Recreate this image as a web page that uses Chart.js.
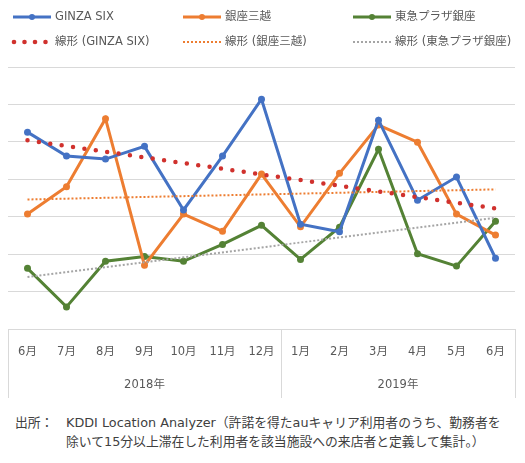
<!DOCTYPE html>
<html>
<head>
<meta charset="utf-8">
<script src="https://cdn.jsdelivr.net/npm/chart.js@4"></script>
<style>
  body { margin: 0; background: #fff; font-family: "DejaVu Sans", "Noto Sans CJK JP", sans-serif; }
  #wrap { position: relative; width: 525px; height: 400px; }
  .note { position: absolute; font-size: 12.8px; color: #404040; line-height: 19px; white-space: nowrap; }
</style>
</head>
<body>
<div id="wrap"><canvas id="chart"></canvas></div>
<div class="note" style="left:15px; top:413px;">出所：</div>
<div class="note" style="left:66px; top:413px;">KDDI Location Analyzer（許諾を得たauキャリア利用者のうち、勤務者を<br>除いて15分以上滞在した利用者を該当施設への来店者と定義して集計。）</div>
<script>
const months = ["6月", "7月", "8月", "9月", "10月", "11月", "12月", "1月", "2月", "3月", "4月", "5月", "6月"];
const years = [["2018年", 0, 6], ["2019年", 7, 12]];

const ginzaSix = [5.26, 4.62, 4.54, 4.88, 3.18, 4.62, 6.14, 2.80, 2.60, 5.58, 3.44, 4.06, 1.89];
const mitsukoshi = [3.07, 3.80, 5.62, 1.70, 3.07, 2.61, 4.14, 2.73, 4.16, 5.45, 4.99, 3.07, 2.51];
const tokyuPlaza = [1.62, 0.59, 1.81, 1.94, 1.81, 2.26, 2.77, 1.86, 2.72, 4.80, 2.01, 1.68, 2.88];

// trend lines: start and end values
const trendGinza = [5.04, 3.22];
const trendMitsukoshi = [3.46, 3.73];
const trendTokyu = [1.39, 2.97];

function ends(pair) {
  const arr = months.map(() => null);
  arr[0] = pair[0];
  arr[arr.length - 1] = pair[1];
  return arr;
}

const textColor = "#595959";
const gridColor = "#d9d9d9";
const fam = '"DejaVu Sans", "Noto Sans CJK JP", sans-serif';
const font = '11.5px ' + fam;

function series(label, data, color) {
  return {
    label: label, data: data, borderColor: color, backgroundColor: color,
    borderWidth: 3, pointRadius: 3.5, pointBorderWidth: 0, tension: 0, order: 1
  };
}

const legendItems = [
  { text: "GINZA SIX", x: 13, y: 17, kind: "line", color: "#4472C4" },
  { text: "銀座三越", x: 183, y: 17, kind: "line", color: "#ED7D31" },
  { text: "東急プラザ銀座", x: 353, y: 17, kind: "line", color: "#548235" },
  { text: "線形 (GINZA SIX)", x: 13, y: 42, kind: "dots", color: "#D0312D" },
  { text: "線形 (銀座三越)", x: 183, y: 42, kind: "dash", color: "#ED7D31" },
  { text: "線形 (東急プラザ銀座)", x: 353, y: 42, kind: "dash", color: "#A5A5A5" }
];

const extras = {
  id: "extras",
  afterDraw(chart) {
    const ctx = chart.ctx;
    const xs = chart.scales.x;
    const bottom = chart.chartArea.bottom;
    ctx.save();
    // legend
    ctx.font = font;
    ctx.textBaseline = "middle";
    legendItems.forEach(it => {
      const x0 = it.x, x1 = it.x + 38;
      ctx.strokeStyle = it.color;
      ctx.fillStyle = it.color;
      if (it.kind === "line") {
        ctx.lineWidth = 3;
        ctx.setLineDash([]);
        ctx.beginPath(); ctx.moveTo(x0, it.y); ctx.lineTo(x1, it.y); ctx.stroke();
        ctx.beginPath(); ctx.arc((x0 + x1) / 2, it.y, 3, 0, Math.PI * 2); ctx.fill();
      } else if (it.kind === "dots") {
        for (let i = 0; i < 4; i++) {
          ctx.beginPath(); ctx.arc(x0 + 1 + i * 10.5, it.y, 2.3, 0, Math.PI * 2); ctx.fill();
        }
      } else {
        ctx.lineWidth = 2;
        ctx.setLineDash([2, 2]);
        ctx.beginPath(); ctx.moveTo(x0, it.y); ctx.lineTo(x1, it.y); ctx.stroke();
        ctx.setLineDash([]);
      }
      ctx.fillStyle = textColor;
      ctx.textAlign = "left";
      ctx.fillText(it.text, x1 + 4, it.y);
    });
    // year groups and separators
    const step = xs.getPixelForValue(1) - xs.getPixelForValue(0);
    ctx.strokeStyle = gridColor;
    ctx.lineWidth = 1;
    ctx.textAlign = "center";
    ctx.fillStyle = textColor;
    const seps = [xs.getPixelForValue(0) - step / 2];
    years.forEach(y => {
      const a = xs.getPixelForValue(y[1]), b = xs.getPixelForValue(y[2]);
      ctx.fillText(y[0], (a + b) / 2, bottom + 56);
      seps.push(b + step / 2);
    });
    seps.forEach(sx => {
      const px = Math.round(sx) + 0.5;
      ctx.beginPath(); ctx.moveTo(px, bottom); ctx.lineTo(px, bottom + 69); ctx.stroke();
    });
    ctx.restore();
  }
};

new Chart(document.getElementById("chart"), {
  type: "line",
  data: {
    labels: months,
    datasets: [
      series("GINZA SIX", ginzaSix, "#4472C4"),
      series("銀座三越", mitsukoshi, "#ED7D31"),
      series("東急プラザ銀座", tokyuPlaza, "#548235"),
      {
        label: "線形 (GINZA SIX)", data: ends(trendGinza), spanGaps: true,
        borderColor: "#D0312D", borderWidth: 4.5, borderDash: [0, 11.5], borderCapStyle: "round",
        pointRadius: 0, order: 0
      },
      {
        label: "線形 (銀座三越)", data: ends(trendMitsukoshi), spanGaps: true,
        borderColor: "#ED7D31", borderWidth: 2, borderDash: [2, 2], pointRadius: 0, order: 0
      },
      {
        label: "線形 (東急プラザ銀座)", data: ends(trendTokyu), spanGaps: true,
        borderColor: "#A5A5A5", borderWidth: 2, borderDash: [2, 2], pointRadius: 0, order: 0
      }
    ]
  },
  options: {
    responsive: true,
    maintainAspectRatio: false,
    animation: false,
    layout: { padding: { left: 8, right: 10, top: 67, bottom: 0 } },
    plugins: { legend: { display: false }, tooltip: { enabled: false } },
    scales: {
      x: {
        offset: true,
        grid: { display: false },
        border: { display: false },
        ticks: { color: textColor, font: { family: fam, size: 11.5 }, padding: 8, maxRotation: 0, autoSkip: false },
        afterFit(scale) { scale.height = 71; }
      },
      y: {
        min: 0, max: 7,
        ticks: { display: false, stepSize: 1 },
        grid: { color: gridColor, drawTicks: false },
        border: { display: false },
        afterFit(scale) { scale.width = 0; }
      }
    }
  },
  plugins: [extras]
});
</script>
</body>
</html>
